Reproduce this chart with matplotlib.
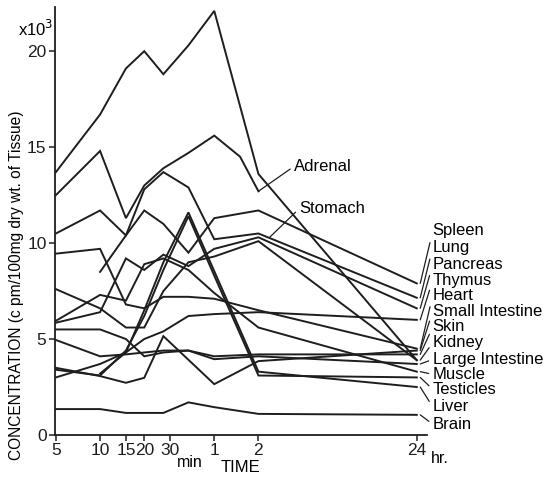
import numpy as np
import matplotlib
matplotlib.use("Agg")
import matplotlib.pyplot as plt

plt.rcParams['font.family'] = ['Liberation Sans', 'DejaVu Sans']

# === Data (time in minutes, concentration x10^3 cpm/100mg) ===
nan = np.nan
times = [5, 10, 15, 20, 27, 40, 60, 90, 120, 1440]

adrenal = [13.7, 16.7, 19.1, 20.0, 18.8, 20.3, 22.1, nan, 13.6, 3.9]
stomach = [12.5, 14.8, 11.3, 13.0, 13.9, 14.7, 15.6, 14.5, 12.7, nan]
spleen = [10.5, 11.7, 10.4, 11.7, 11.0, 9.5, 11.3, nan, 11.7, 7.9]
lung = [nan, 8.5, 10.4, 12.8, 13.7, 12.9, 10.2, nan, 10.5, 7.15]
pancreas = [5.85, 6.4, 9.2, 8.6, 9.4, 8.8, 9.7, nan, 10.3, 6.6]
thymus = [3.0, 3.7, 4.3, 5.0, 5.4, 6.2, 6.3, nan, 6.4, 6.0]
heart = [9.45, 9.7, 6.8, 6.6, 7.2, 7.2, 7.1, nan, 6.5, 4.5]
small_int = [3.5, 3.07, 2.72, 2.98, 5.15, nan, 2.65, nan, 3.85, 4.4]
skin = [5.5, 5.5, 5.0, 4.1, 4.3, 4.4, 4.1, nan, 4.2, 4.2]
kidney = [7.6, 6.6, 5.6, 5.6, 7.5, 9.0, 9.3, nan, 10.1, 3.9]
large_int = [4.95, 4.1, 4.2, 4.3, 4.4, 4.4, 3.95, nan, 4.1, 3.7]
muscle = [5.95, 7.3, 7.0, 8.9, 9.2, 8.6, 7.4, nan, 5.6, 3.3]
testicles = [3.4, 3.1, 4.4, 6.2, 8.6, 11.4, 8.3, nan, 3.1, 3.0]
liver = [nan, 3.2, 4.3, 6.5, 9.0, 11.6, nan, nan, 3.3, 2.5]
brain = [1.35, 1.35, 1.15, 1.15, 1.15, 1.7, 1.45, nan, 1.1, 1.05]

series = [adrenal, stomach, spleen, lung, pancreas, thymus, heart, small_int,
          skin, kidney, large_int, muscle, testicles, liver, brain]

# labels at the 24 hr end, top to bottom, with the line they point at
right_names = ['Spleen', 'Lung', 'Pancreas', 'Thymus', 'Heart', 'Small Intestine',
               'Skin', 'Kidney', 'Large Intestine', 'Muscle', 'Testicles', 'Liver', 'Brain']
right_series = [spleen, lung, pancreas, thymus, heart, small_int,
                skin, kidney, large_int, muscle, testicles, liver, brain]
right_label_y = [10.63, 9.77, 8.89, 8.07, 7.29, 6.46, 5.63, 4.81, 3.94, 3.16, 2.38, 1.46, 0.56]

tick_times = [5, 10, 15, 20, 30, 60, 120, 1440]
tick_labels = ['5', '10', '15', '20', '30', '1', '2', '24']

# === Plot ===
fig = plt.figure(figsize=(5.6, 4.83), dpi=100)
ax = fig.add_axes([0.098, 0.0994, 0.664, 0.886])

t = np.array(times, dtype=float)
for s in series:
    v = np.array(s, dtype=float)
    m = ~np.isnan(v)
    ax.plot(t[m], v[m], color='#1e1e1e', lw=1.4, solid_joinstyle='miter')

ax.set_xscale('log')
ax.set_xlim(4.92, 1683)
ax.set_ylim(0, 22.3)
ax.set_xticks(tick_times)
ax.set_xticklabels(tick_labels)
ax.xaxis.set_minor_locator(matplotlib.ticker.NullLocator())
ax.set_yticks([0, 5, 10, 15, 20])
ax.set_yticklabels(['0', '5', '10', '15', '20'])
ax.tick_params(direction='out', length=4, width=1.1, labelsize=12.5, pad=2, colors='#1e1e1e')
for side in ['top', 'right']:
    ax.spines[side].set_visible(False)
for side in ['left', 'bottom']:
    ax.spines[side].set_linewidth(1.3)
    ax.spines[side].set_color('#1e1e1e')

# axis texts
xt = ax.get_xaxis_transform()
ax.text(41, -0.065, 'min', transform=xt, fontsize=11.5, ha='center', va='center')
ax.text(2066, -0.054, 'hr.', transform=xt, fontsize=11.5, ha='center', va='center')
ax.text(91, -0.077, 'TIME', transform=xt, fontsize=12, ha='center', va='center')
fig.text(17 / 560, 1 - 285 / 483, 'CONCENTRATION (c pm/100mg dry wt. of Tissue)',
         rotation=90, fontsize=11.2, ha='center', va='center')
fig.text(53 / 560, 1 - 29 / 483, 'x10$^3$', fontsize=12, ha='right', va='center')

# leader labels
arrow = dict(arrowstyle='-', lw=0.9, color='#1e1e1e', shrinkA=1, shrinkB=0, relpos=(0, 0.5))
ax.annotate('Adrenal', xy=(120, 12.7), xytext=(210, 14.0), fontsize=12,
            va='center', ha='left', arrowprops=arrow, annotation_clip=False)
ax.annotate('Stomach', xy=(143, 10.3), xytext=(228, 11.8), fontsize=12,
            va='center', ha='left', arrowprops=arrow, annotation_clip=False)
for name, s, ly in zip(right_names, right_series, right_label_y):
    ax.annotate(name, xy=(1520, s[-1]), xytext=(1850, ly), fontsize=12,
                va='center', ha='left', arrowprops=arrow, annotation_clip=False)

fig.savefig('out.png', dpi=100)
